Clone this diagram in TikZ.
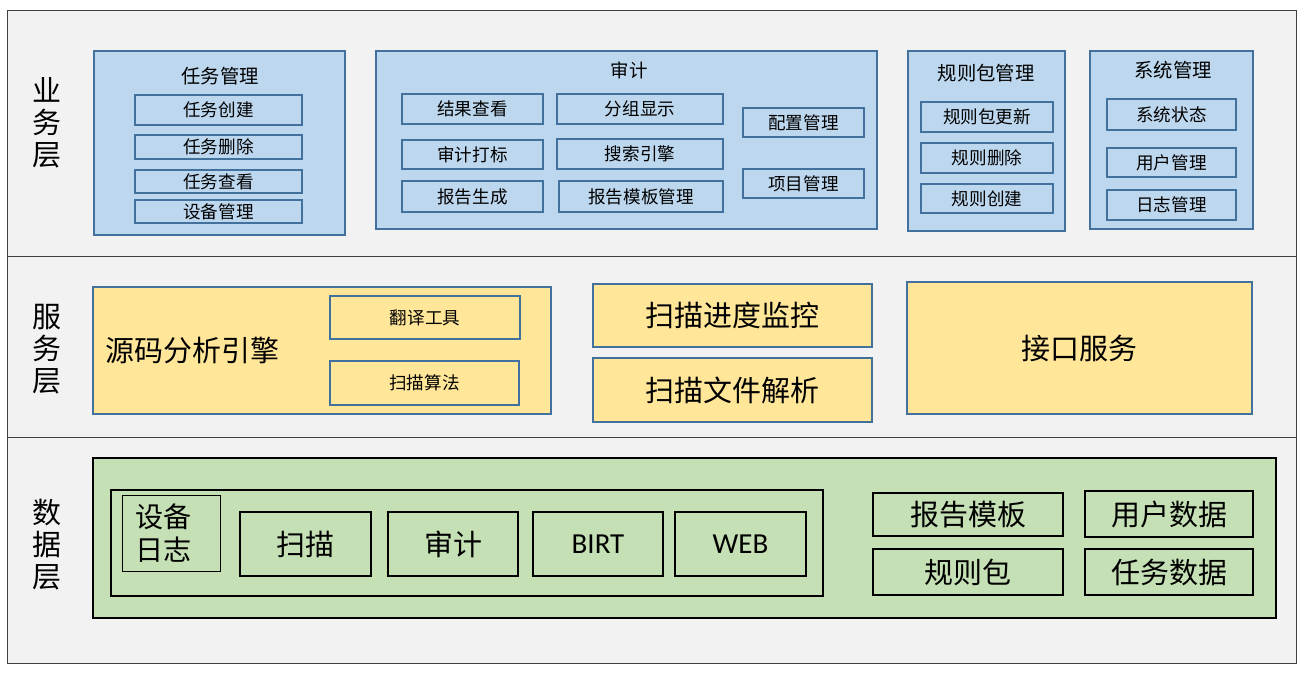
\documentclass[tikz,border=0pt]{standalone}
\usepackage{fontspec}
\setmainfont{Noto Sans CJK SC}
\newfontfamily\latinfont{Carlito}
\definecolor{bandgray}{HTML}{F2F2F2}
\definecolor{bandline}{HTML}{404040}
\definecolor{bizblue}{HTML}{BDD7EE}
\definecolor{edgeblue}{HTML}{41719C}
\definecolor{srvyellow}{HTML}{FFE699}
\definecolor{datagreen}{HTML}{C5E0B4}
\tikzset{
  band/.style={draw=bandline, fill=bandgray, line width=0.02cm},
  layername/.style={align=center, font=\fontsize{16.5}{18.2}\selectfont},
  bizbox/.style={draw=edgeblue, fill=bizblue, line width=0.04cm, inner sep=0pt},
  bizitem/.style={bizbox, font=\fontsize{10}{12}\selectfont},
  biztitle/.style={font=\fontsize{11}{13}\selectfont},
  srvbox/.style={draw=edgeblue, fill=srvyellow, line width=0.04cm, inner sep=0pt},
  datbox/.style={draw=black, fill=datagreen, line width=0.05cm, inner sep=0pt,
    font=\fontsize{16.5}{18}\selectfont}
}
\begin{document}
\begin{tikzpicture}[x=0.02cm, y=-0.02cm]
    \useasboundingbox (0,0) rectangle (1305,674);

    % Drawing the three layer bands
    \draw [band] (7,10) rectangle (1296,256);%
    \draw [band] (7,256) rectangle (1296,437);%
    \draw [band] (7,437) rectangle (1296,663);%

    % Layer names
    \node [layername] (lbiz) at (47,123) {业\\务\\层};%
    \node [layername] (lsrv) at (47,349) {服\\务\\层};%
    \node [layername] (ldat) at (47,545) {数\\据\\层};%

    % Business layer: task management
    \node [bizbox, minimum width=5.02cm, minimum height=3.68cm] (task) at (219.5,143) {};%
    \node [biztitle] (tasktitle) at (220,76) {任务管理};%
    \node [bizitem, minimum width=3.34cm, minimum height=0.60cm] (taskadd) at (218.5,110) {任务创建};%
    \node [bizitem, minimum width=3.34cm, minimum height=0.48cm] (taskdel) at (218.5,147) {任务删除};%
    \node [bizitem, minimum width=3.34cm, minimum height=0.46cm] (taskview) at (218.5,181.5) {任务查看};%
    \node [bizitem, minimum width=3.34cm, minimum height=0.46cm] (devmgr) at (218.5,211.5) {设备管理};%

    % Business layer: audit
    \node [bizbox, minimum width=10.02cm, minimum height=3.56cm] (audit) at (626.5,140) {};%
    \node [biztitle, font=\fontsize{10.5}{12}\selectfont] (audittitle) at (629,70) {审计};%
    \node [bizitem, minimum width=2.82cm, minimum height=0.60cm] (result) at (472.5,109) {结果查看};%
    \node [bizitem, minimum width=3.32cm, minimum height=0.60cm] (group) at (640,109) {分组显示};%
    \node [bizitem, minimum width=2.82cm, minimum height=0.58cm] (mark) at (472.5,154.5) {审计打标};%
    \node [bizitem, minimum width=3.32cm, minimum height=0.60cm] (search) at (640,154) {搜索引擎};%
    \node [bizitem, minimum width=2.82cm, minimum height=0.62cm] (report) at (472.5,196.5) {报告生成};%
    \node [bizitem, minimum width=3.28cm, minimum height=0.62cm] (tplmgr) at (641,196.5) {报告模板管理};%
    \node [bizitem, minimum width=2.42cm, minimum height=0.58cm] (config) at (803.5,122.5) {配置管理};%
    \node [bizitem, minimum width=2.42cm, minimum height=0.58cm] (project) at (803.5,183.5) {项目管理};%

    % Business layer: rule packages
    \node [bizbox, minimum width=3.14cm, minimum height=3.60cm] (rules) at (986.5,141) {};%
    \node [biztitle] (rulestitle) at (986,73) {规则包管理};%
    \node [bizitem, minimum width=2.64cm, minimum height=0.60cm] (ruleupd) at (987,117) {规则包更新};%
    \node [bizitem, minimum width=2.64cm, minimum height=0.60cm] (ruledel) at (987,158) {规则删除};%
    \node [bizitem, minimum width=2.64cm, minimum height=0.58cm] (ruleadd) at (987,198.5) {规则创建};%

    % Business layer: system management
    \node [bizbox, minimum width=3.26cm, minimum height=3.56cm] (system) at (1171.5,140) {};%
    \node [biztitle] (systemtitle) at (1173,70) {系统管理};%
    \node [bizitem, minimum width=2.58cm, minimum height=0.62cm] (sysstate) at (1171.5,114.5) {系统状态};%
    \node [bizitem, minimum width=2.58cm, minimum height=0.58cm] (usermgr) at (1171.5,162.5) {用户管理};%
    \node [bizitem, minimum width=2.58cm, minimum height=0.60cm] (logmgr) at (1171.5,205) {日志管理};%

    % Service layer
    \node [srvbox, minimum width=9.16cm, minimum height=2.54cm] (engine) at (322,350.5) {};%
    \node [font=\fontsize{16.5}{18}\selectfont, anchor=west, inner sep=0pt] (enginetitle) at (105,350) {源码分析引擎};%
    \node [srvbox, minimum width=3.80cm, minimum height=0.86cm, font=\fontsize{10}{12}\selectfont] (compile) at (425,317.5) {翻译工具};%
    \node [srvbox, minimum width=3.78cm, minimum height=0.88cm, font=\fontsize{10}{12}\selectfont] (algo) at (424.5,383) {扫描算法};%
    \node [srvbox, minimum width=5.58cm, minimum height=1.26cm, font=\fontsize{16.5}{18}\selectfont] (progress) at (732.5,315.5) {扫描进度监控};%
    \node [srvbox, minimum width=5.58cm, minimum height=1.28cm, font=\fontsize{16.5}{18}\selectfont] (parse) at (732.5,390) {扫描文件解析};%
    \node [srvbox, minimum width=6.90cm, minimum height=2.64cm, font=\fontsize{16.5}{18}\selectfont] (iface) at (1079.5,348) {接口服务};%

    % Data layer
    \node [datbox, minimum width=23.66cm, minimum height=3.20cm] (store) at (684.5,538) {};%
    \node [draw=black, line width=0.04cm, minimum width=14.24cm, minimum height=2.12cm] (logs) at (467,543) {};%
    \node [draw=black, line width=0.02cm, fill=datagreen, inner xsep=0.26cm, text width=1.46cm,
      minimum height=1.52cm, align=left, font=\fontsize{16}{18.5}\selectfont] (devlog) at (171.5,533) {设备\\日志};%
    \node [datbox, minimum width=2.62cm, minimum height=1.28cm] (scanlog) at (305.5,544) {扫描};%
    \node [datbox, minimum width=2.60cm, minimum height=1.28cm] (auditlog) at (453,544) {审计};%
    \node [datbox, minimum width=2.60cm, minimum height=1.28cm, font=\latinfont\fontsize{16.5}{18}\selectfont] (birtlog) at (598,544) {BIRT};%
    \node [datbox, minimum width=2.62cm, minimum height=1.28cm, font=\latinfont\fontsize{16.5}{18}\selectfont] (weblog) at (740.5,544) {WEB};%
    \node [datbox, minimum width=3.80cm, minimum height=0.86cm] (tpldata) at (968,514.5) {报告模板};%
    \node [datbox, minimum width=3.36cm, minimum height=0.92cm] (userdata) at (1169,514) {用户数据};%
    \node [datbox, minimum width=3.80cm, minimum height=0.92cm] (ruledata) at (968,572) {规则包};%
    \node [datbox, minimum width=3.36cm, minimum height=0.92cm] (taskdata) at (1169,572) {任务数据};%
\end{tikzpicture}
\end{document}
